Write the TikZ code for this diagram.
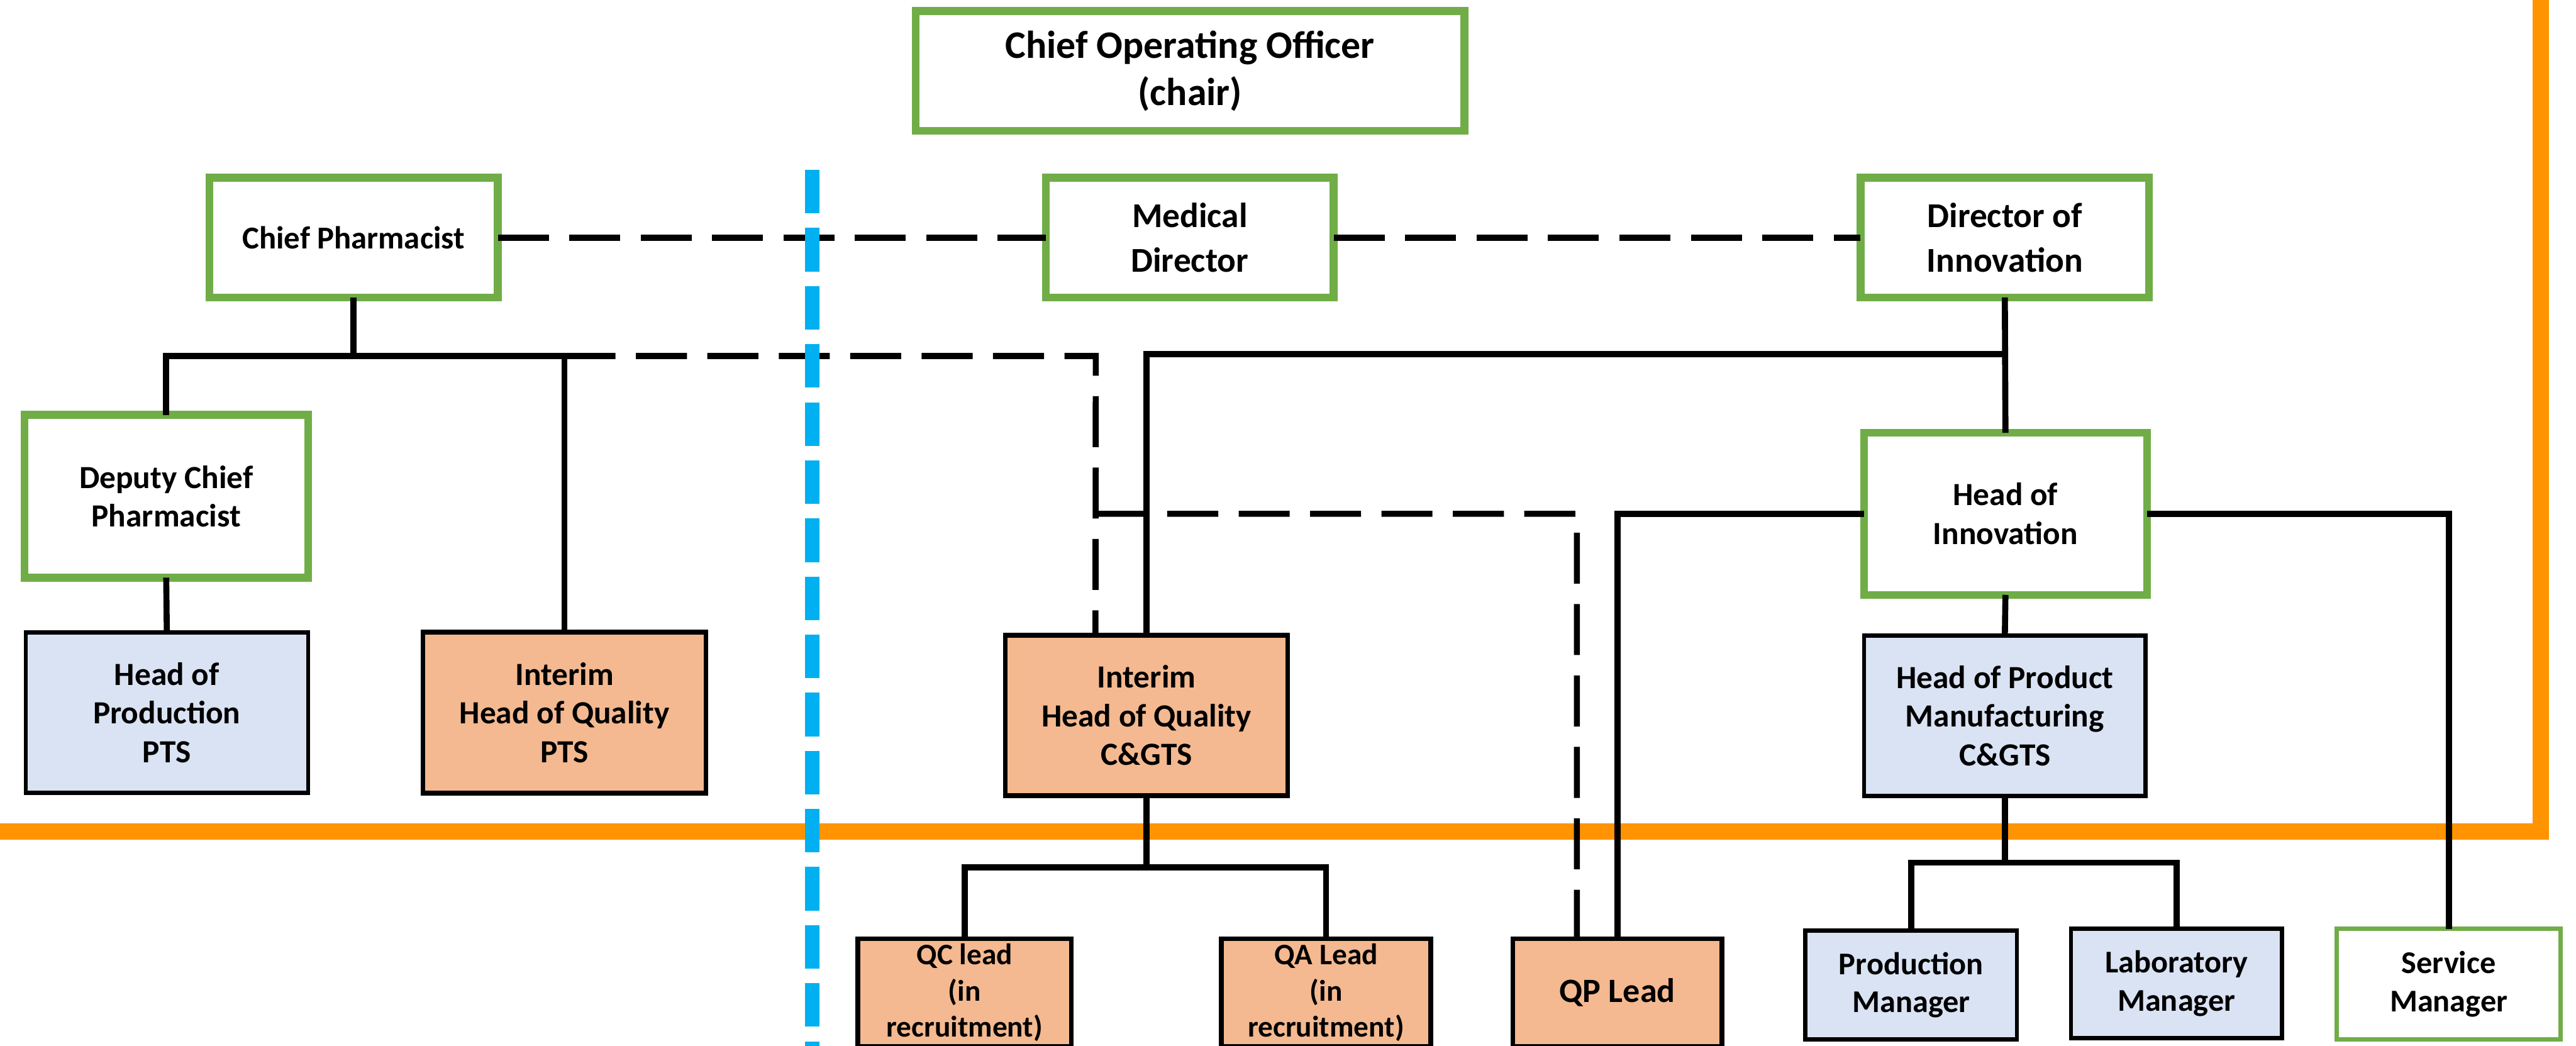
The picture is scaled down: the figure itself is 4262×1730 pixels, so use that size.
\documentclass[tikz,border=0pt]{standalone}
\usepackage{fontspec}
\setmainfont{Carlito}
\definecolor{boxgreen}{HTML}{70AD47}
\definecolor{peach}{HTML}{F4B990}
\definecolor{paleblue}{HTML}{DAE3F3}
\definecolor{bandorange}{HTML}{FF9300}
\definecolor{divblue}{HTML}{00B0F0}
\begin{document}
\begin{tikzpicture}[x=0.01cm, y=-0.01cm,
  boxsize/.style 2 args={minimum width=#1cm, minimum height=#2cm},
  box/.style={rectangle, inner sep=0pt, outer sep=0pt, align=center,
    font=\bfseries\fontsize{15.2pt}{18.2pt}\selectfont},
  greenbox/.style={box, draw=boxgreen, line width=3.7pt, fill=white},
  thingreen/.style={box, draw=boxgreen, line width=2pt, fill=white},
  peachbox/.style={box, draw=black, line width=2.2pt, fill=peach},
  bluebox/.style={box, draw=black, line width=1.9pt, fill=paleblue},
  link/.style={draw=black, line width=2.85pt},
  dotted link/.style={link, dash pattern=on 24pt off 9.6pt},
  bigfont/.style={font=\bfseries\fontsize{18.3pt}{22pt}\selectfont},
  midfont/.style={font=\bfseries\fontsize{16.4pt}{21pt}\selectfont},
  cpfont/.style={font=\bfseries\fontsize{15pt}{18pt}\selectfont},
  smallfont/.style={font=\bfseries\fontsize{14.9pt}{18pt}\selectfont},
  tinyfont/.style={font=\bfseries\fontsize{14pt}{17pt}\selectfont},
  qpfont/.style={font=\bfseries\fontsize{16pt}{18pt}\selectfont}]

\useasboundingbox (0,0) rectangle (4262,1730);
\clip (0,0) rectangle (4262,1730);

% orange boundary of the steering group
\draw[bandorange, line width=7.7pt] (-60,1376) -- (4204,1376) -- (4204,-60);

% top tier
\node[greenbox, bigfont, boxsize={9.07}{1.98}] (coo) at (1969,117.5) {Chief Operating Officer\\(chair)};
\node[greenbox, cpfont, boxsize={4.77}{1.98}] (cp) at (585,393) {Chief Pharmacist};
\node[greenbox, midfont, boxsize={4.76}{1.98}] (md) at (1968.5,393) {Medical\\Director};
\node[greenbox, midfont, boxsize={4.77}{1.98}] (di) at (3317,393) {Director of\\Innovation};

% second tier
\node[greenbox, boxsize={4.69}{2.69}] (dcp) at (275,821) {Deputy Chief\\Pharmacist};
\node[greenbox, boxsize={4.68}{2.68}] (hoi) at (3318,850) {Head of\\Innovation};

% heads of department
\node[bluebox, boxsize={4.67}{2.65}] (hop) at (276,1179) {Head of\\Production\\PTS};
\node[peachbox, boxsize={4.68}{2.66}] (hoqp) at (934,1179) {Interim\\Head of Quality\\PTS};
\node[peachbox, boxsize={4.67}{2.65}] (hoqc) at (1897,1183.5) {Interim\\Head of Quality\\C\&GTS};
\node[bluebox, boxsize={4.65}{2.65}] (hopm) at (3317,1184) {Head of Product\\Manufacturing\\C\&GTS};

% leads and managers
\node[peachbox, tinyfont, boxsize={3.53}{1.78}] (qc) at (1596,1642) {QC lead\\(in\\recruitment)};
\node[peachbox, tinyfont, boxsize={3.46}{1.78}] (qa) at (2194,1642) {QA Lead\\(in\\recruitment)};
\node[peachbox, qpfont, boxsize={3.46}{1.78}] (qp) at (2676,1642) {QP Lead};
\node[bluebox, smallfont, boxsize={3.50}{1.80}] (pm) at (3162,1629.5) {Production\\Manager};
\node[bluebox, smallfont, boxsize={3.49}{1.81}] (lm) at (3601,1627) {Laboratory\\Manager};
\node[thingreen, smallfont, boxsize={3.70}{1.83}] (sm) at (4051.5,1628) {Service\\Manager};

% junction points
\coordinate (cpbar) at (585,589);
\coordinate (dibar) at (3317,586);
\coordinate (qualbar) at (1897,1435);
\coordinate (mfgbar) at (3317,1427);
\coordinate (crossbar) at (1813,850);

% solid reporting lines
\draw[link] (cp.south) -- (cpbar);
\draw[link] (dcp.north) |- (cpbar) -| (hoqp.north);
\draw[link] (dcp.south) -- (hop.north);
\draw[link] (di.south) -- (hoi.north);
\draw[link] (dibar) -| (hoqc.north);
\draw[link] (hoi.west) -| (qp.north);
\draw[link] (hoi.east) -| (sm.north);
\draw[link] (hoi.south) -- (hopm.north);
\draw[link] (hopm.south) -- (mfgbar);
\draw[link] (pm.north) |- (mfgbar) -| (lm.north);
\draw[link] (hoqc.south) -- (qualbar);
\draw[link] (qc.north) |- (qualbar) -| (qa.north);

% dashed professional lines
\draw[dotted link] (cp.east) -- (md.west);
\draw[dotted link] (md.east) -- (di.west);
\draw[dotted link] (934,589) -- (1813,589) -- ([xshift=1.49cm]hoqc.north west);
\draw[dotted link] (crossbar) -- (2609,850) -- ([xshift=1.06cm]qp.north west);

% divider between the two services
\draw[divblue, line width=6.83pt, dash pattern=on 20.5pt off 6.83pt] (1344,281) -- (1344,1800);

\end{tikzpicture}
\end{document}
